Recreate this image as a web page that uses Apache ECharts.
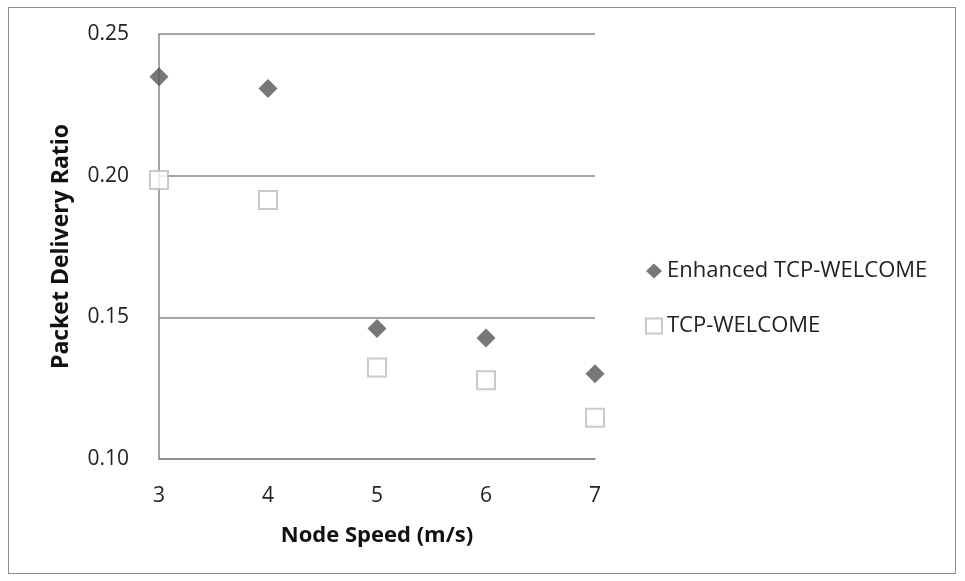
<!DOCTYPE html>
<html><head><meta charset="utf-8">
<script src="https://cdn.jsdelivr.net/npm/echarts@6/dist/echarts.min.js"></script>
<style>html,body{margin:0;padding:0;background:#fff}#c{width:965px;height:581px}
#frame{position:absolute;left:8px;top:7px;width:946px;height:565px;border:1px solid #8c8c8c;pointer-events:none}</style>
</head><body><div id="c"></div><div id="frame"></div>
<script>
const speeds = [3, 4, 5, 6, 7];
const enhanced = [0.2349, 0.2308, 0.1461, 0.1427, 0.1301];
const welcome = [0.1985, 0.1914, 0.1323, 0.1278, 0.1146];
const seriesNames = ['Enhanced TCP-WELCOME', 'TCP-WELCOME'];

const font = 'Open Sans';
const chart = echarts.init(document.getElementById('c'));
chart.setOption({
  animation: false,
  textStyle: {fontFamily: font},
  grid: {left: 159, top: 34, right: 370, bottom: 122},
  legend: {
    orient: 'vertical', left: 640, top: 255, itemGap: 33, itemWidth: 16, itemHeight: 15,
    textStyle: {fontFamily: font, fontSize: 22, color: '#222'},
    data: seriesNames
  },
  xAxis: {
    type: 'value', min: 3, max: 7, interval: 1,
    name: 'Node Speed (m/s)', nameLocation: 'middle', nameGap: 66,
    nameTextStyle: {fontFamily: font, fontSize: 22, fontWeight: 'bold', color: '#111'},
    axisLine: {show: true, lineStyle: {color: '#868686', width: 1.5}},
    axisTick: {show: false},
    splitLine: {show: false},
    axisLabel: {fontSize: 21, color: '#222', margin: 27}
  },
  yAxis: {
    type: 'value', min: 0.10, max: 0.25, interval: 0.05,
    name: 'Packet Delivery Ratio', nameLocation: 'middle', nameGap: 86,
    nameTextStyle: {fontFamily: font, fontSize: 23, fontWeight: 'bold', color: '#111'},
    axisLine: {show: true, lineStyle: {color: '#868686', width: 1.5}},
    axisTick: {show: false},
    splitLine: {show: true, lineStyle: {color: '#868686', width: 1.5}},
    axisLabel: {fontSize: 21, color: '#222', margin: 30, formatter: v => v.toFixed(2)}
  },
  series: [
    {
      name: seriesNames[0], type: 'scatter', symbol: 'diamond', symbolSize: [19, 19],
      itemStyle: {color: '#555555'},
      data: speeds.map((s, i) => [s, enhanced[i]])
    },
    {
      name: seriesNames[1], type: 'scatter', symbol: 'rect', symbolSize: [18, 18],
      itemStyle: {color: '#fff', borderColor: '#bdbdbd', borderWidth: 2},
      data: speeds.map((s, i) => [s, welcome[i]])
    }
  ]
});
</script></body></html>
